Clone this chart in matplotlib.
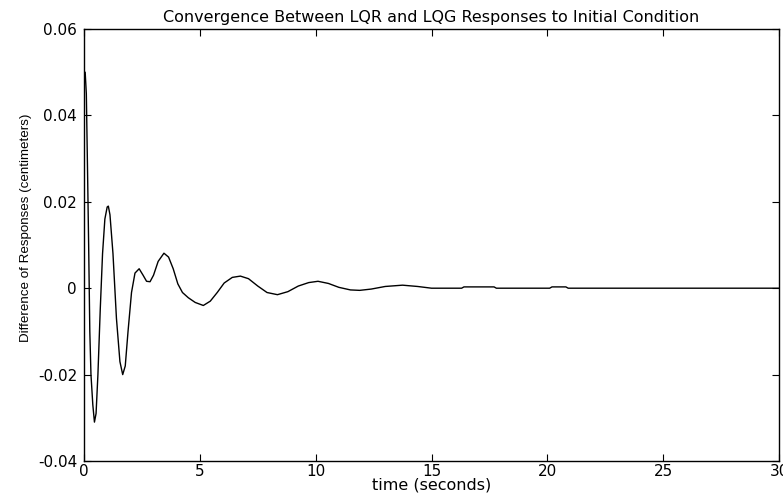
import numpy as np
import matplotlib
matplotlib.use("Agg")
import matplotlib.pyplot as plt

# time (s) and response difference (cm)
t_sec = [0.0, 0.05, 0.1, 0.15, 0.2, 0.25, 0.3, 0.38, 0.45, 0.52, 0.6, 0.7, 0.8, 0.9,
         1.0, 1.05, 1.12, 1.25, 1.4, 1.55, 1.67, 1.78, 1.9, 2.05, 2.2, 2.38, 2.55,
         2.7, 2.85, 3.0, 3.2, 3.45, 3.65, 3.85, 4.05, 4.25, 4.5, 4.8, 5.15, 5.45,
         5.75, 6.05, 6.4, 6.75, 7.1, 7.5, 7.9, 8.35, 8.8, 9.25, 9.7, 10.1, 10.55,
         11.0, 11.5, 11.9, 12.4, 13.0, 13.75, 14.4, 15.0, 16.3, 16.4, 17.7, 17.8,
         20.1, 20.2, 20.8, 20.9, 30.0]
diff_cm = [0.048, 0.050, 0.045, 0.028, 0.010, -0.010, -0.020, -0.027, -0.031, -0.029,
           -0.020, -0.005, 0.008, 0.016, 0.0188, 0.019, 0.017, 0.008, -0.007, -0.017,
           -0.020, -0.018, -0.010, -0.001, 0.0035, 0.0045, 0.0030, 0.0016, 0.0015,
           0.0030, 0.0062, 0.0081, 0.0072, 0.0045, 0.0010, -0.0010, -0.0022, -0.0033,
           -0.0040, -0.0030, -0.0010, 0.0012, 0.0025, 0.0028, 0.0022, 0.0005, -0.0010,
           -0.0015, -0.0008, 0.0005, 0.0013, 0.0016, 0.0011, 0.0002, -0.0004, -0.0005,
           -0.0002, 0.0004, 0.0007, 0.0004, 0.0, 0.0, 0.0003, 0.0003, 0.0,
           0.0, 0.0003, 0.0003, 0.0, 0.0]

x_ticks = [0, 5, 10, 15, 20, 25, 30]
y_ticks = [-0.04, -0.02, 0, 0.02, 0.04, 0.06]
y_tick_labels = ["-0.04", "-0.02", "0", "0.02", "0.04", "0.06"]

plt.rcParams['font.family'] = ['DejaVu Sans']

fig = plt.figure(figsize=(7.83, 4.93), dpi=100)
ax = fig.add_axes([0.1073, 0.0649, 0.8876, 0.8763])

ax.plot(t_sec, diff_cm, color='black', linewidth=1.0)

ax.set_xlim(0, 30)
ax.set_ylim(-0.04, 0.06)
ax.set_xticks(x_ticks)
ax.set_yticks(y_ticks)
ax.set_yticklabels(y_tick_labels)
ax.tick_params(direction='in', length=5, top=True, right=True, labelsize=11)
ax.tick_params(axis='y', pad=5)
ax.tick_params(axis='x', pad=2)
for sp in ax.spines.values():
    sp.set_linewidth(1.0)

ax.set_title("Convergence Between LQR and LQG Responses to Initial Condition",
             fontsize=11.5, pad=5)
ax.set_xlabel("time (seconds)", fontsize=11.5, labelpad=-1)
ax.set_ylabel("Difference of Responses (centimeters)", fontsize=9.6,
              family='Liberation Sans')
ax.yaxis.set_label_coords(-0.075, 0.54)

fig.savefig("out.png", dpi=100)
